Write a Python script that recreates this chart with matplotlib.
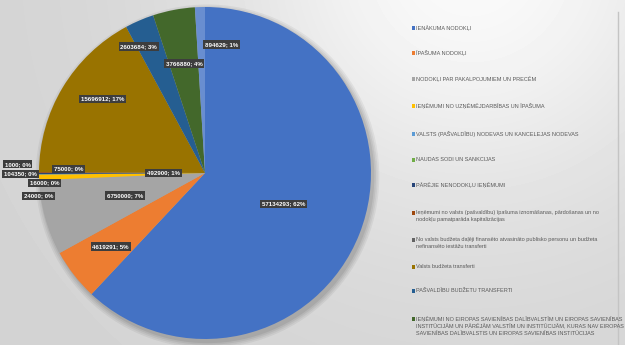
import numpy as np
import matplotlib
matplotlib.use('Agg')
import matplotlib.pyplot as plt
from matplotlib.patches import Circle, Rectangle

# Budget revenue categories (legend shows the first 12)
categories = [
    'IENĀKUMA NODOKĻI',
    'ĪPAŠUMA NODOKĻI',
    'NODOKĻI PAR PAKALPOJUMIEM UN PRECĒM',
    'IEŅĒMUMI NO UZŅĒMĒJDARBĪBAS UN ĪPAŠUMA',
    'VALSTS (PAŠVALDĪBU) NODEVAS UN KANCELEJAS NODEVAS',
    'NAUDAS SODI UN SANKCIJAS',
    'PĀRĒJIE NENODOKĻU IEŅĒMUMI',
    'Ieņēmumi no valsts (pašvaldību) īpašuma iznomāšanas, pārdošanas un no\nnodokļu pamatparāda kapitalizācijas',
    'No valsts budžeta daļēji finansēto atvasināto publisko personu un budžeta\nnefinansēto iestāžu transferti',
    'Valsts budžeta transferti',
    'PAŠVALDĪBU BUDŽETU TRANSFERTI',
    'IEŅĒMUMI NO EIROPAS SAVIENĪBAS DALĪBVALSTĪM UN EIROPAS SAVIENĪBAS\nINSTITŪCIJĀM UN PĀRĒJĀM VALSTĪM UN INSTITŪCIJĀM, KURAS NAV EIROPAS\nSAVIENĪBAS DALĪBVALSTIS UN EIROPAS SAVIENĪBAS INSTITŪCIJAS',
    'Citi',
]
values = [57134293, 4619291, 6750000, 492900, 24000, 16000, 104350,
          75000, 1000, 15696912, 2603684, 3766880, 894629]

colours = ['#4472C4', '#ED7D31', '#A5A5A5', '#FFC000', '#5B9BD5', '#70AD47',
           '#264478', '#9E480E', '#636363', '#997300', '#255E91', '#43682B',
           '#698ED0']

# label placement: radius (fraction of pie radius) and angle (None = wedge middle)
label_r = [0.51, 0.72, 0.50, 0.25, 1.01, 0.97, 1.11, 0.82, 1.13, 0.76, 0.86, 0.67, 0.78]
label_ang = [None, None, None, 180.0, 187.9, 183.6, 180.3, 178.3, 177.3,
             144.0, 117.6, None, 82.5]

# legend: centre of each entry's first line (pixels from top)
legend_y = [28, 53, 79, 106, 134, 160, 185, 213, 240, 267, 291, 319]

W, H = 625, 345
fig = plt.figure(figsize=(W / 100, H / 100), dpi=100)

# background with soft gradient
ax_bg = fig.add_axes([0, 0, 1, 1])
yy, xx = np.mgrid[0:H, 0:W]
d = np.sqrt((xx - 470.0) ** 2 + (yy + 40.0) ** 2)
shade = 0.83 + 0.15 * np.exp(-(d / 250.0) ** 2)
ax_bg.imshow(shade, cmap='gray', vmin=0, vmax=1, extent=(0, W, H, 0), aspect='auto')
ax_bg.set_xlim(0, W)
ax_bg.set_ylim(H, 0)
ax_bg.axis('off')
ax_bg.plot([618, 618], [12, H], color='#c4c4c4', linewidth=1.0)

# legend drawn manually, marker beside the first line
for i, y in enumerate(legend_y):
    ax_bg.add_patch(Rectangle((411.5, y - 1.6), 3.2, 3.2, color=colours[i], linewidth=0))
    ax_bg.text(416.5, y - 2.8, categories[i], fontsize=4.0, color='#595959',
               family='Liberation Sans', va='top', ha='left', linespacing=1.5)

# pie
cx, cy, R = 205, 173, 166
ax = fig.add_axes([(cx - R) / W, (H - cy - R) / H, 2 * R / W, 2 * R / H])

# soft shadow behind pie
for k, a in enumerate([0.05, 0.05, 0.06, 0.07]):
    ax.add_patch(Circle((0.015, -0.02), 1.035 - 0.01 * k, color='black', alpha=a,
                        linewidth=0, zorder=0, clip_on=False))

wedges, _ = ax.pie(values, colors=colours, startangle=90, counterclock=False,
                   radius=1.0, wedgeprops=dict(linewidth=0))
for w in wedges:
    w.set_zorder(2)

# pie() resets the limits, so set them afterwards
ax.set_xlim(-1, 1)
ax.set_ylim(-1, 1)
ax.set_aspect('equal')
ax.axis('off')

total = float(sum(values))
for i, w in enumerate(wedges):
    ang = label_ang[i]
    if ang is None:
        ang = (w.theta1 + w.theta2) / 2.0
    x = label_r[i] * np.cos(np.radians(ang))
    y = label_r[i] * np.sin(np.radians(ang))
    pct = int(round(values[i] / total * 100))
    ax.text(x, y, '%d; %d%%' % (values[i], pct), fontsize=4.4, color='white',
            fontweight='bold', family='Liberation Sans', ha='center', va='center',
            zorder=5, clip_on=False,
            bbox=dict(boxstyle='square,pad=0.3', fc='#3d3d3d', ec='none'))

fig.savefig('out.png', dpi=100)
